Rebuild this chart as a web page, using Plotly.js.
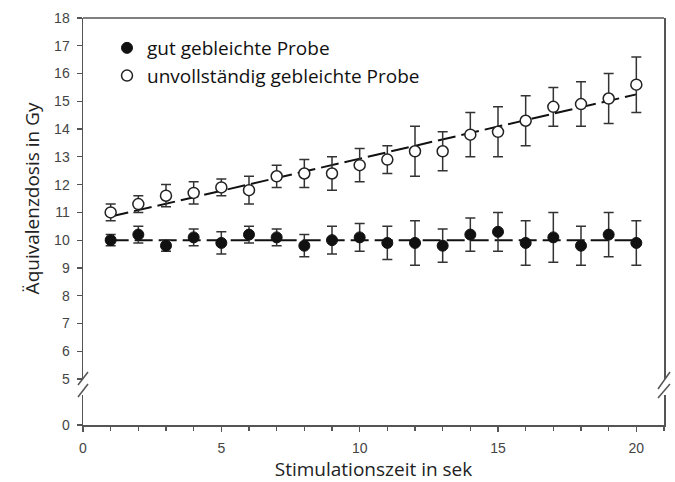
<!DOCTYPE html>
<html>
<head>
<meta charset="utf-8">
<script src="https://cdn.plot.ly/plotly-3.0.1.min.js"></script>
<style>html,body{margin:0;padding:0;background:#fff;}#chart{width:675px;height:482px;}</style>
</head>
<body>
<div id="chart"></div>
<script>
// ---- data ----
var stimTime = [1,2,3,4,5,6,7,8,9,10,11,12,13,14,15,16,17,18,19,20];
var gutValues = [10.0,10.2,9.8,10.1,9.9,10.2,10.1,9.8,10.0,10.1,9.9,9.9,9.8,10.2,10.3,9.9,10.1,9.8,10.2,9.9];
var gutErrors = [0.2,0.3,0.2,0.3,0.4,0.3,0.3,0.4,0.5,0.5,0.6,0.8,0.6,0.6,0.7,0.8,0.9,0.7,0.8,0.8];
var unvValues = [11.0,11.3,11.6,11.7,11.9,11.8,12.3,12.4,12.4,12.7,12.9,13.2,13.2,13.8,13.9,14.3,14.8,14.9,15.1,15.6];
var unvErrors = [0.3,0.3,0.4,0.4,0.3,0.5,0.4,0.5,0.6,0.6,0.5,0.9,0.7,0.8,0.9,0.9,0.7,0.8,0.9,1.0];
var fitX = [1, 20];
var fitGut = [10.0, 10.0];
var fitUnv = [10.85, 15.25];
var seriesNames = ["gut gebleichte Probe", "unvollständig gebleichte Probe"];
var xTitle = "Stimulationszeit in sek";
var yTitle = "Äquivalenzdosis in Gy";

// ---- geometry helpers (paper coords) ----
var L = 83, R = 11, T = 18, B = 57, W = 675, H = 482;
var pw = W - L - R, ph = H - T - B;
function px(x){ return (x - L) / pw; }
function py(y){ return (H - B - y) / ph; }

var axisCol = "#555";
var dashPat = "18px,6px";
var txtFont = "'Open Sans', 'Noto Sans', sans-serif";

var traces = [
  // empty trace so the lower (broken) axis segment is created
  {x: [], y: [], xaxis: "x", yaxis: "y2", mode: "markers", showlegend: false, hoverinfo: "skip"},
  {x: fitX, y: fitUnv, mode: "lines", line: {color: "#111", width: 2, dash: dashPat}, showlegend: false, hoverinfo: "skip"},
  {x: fitX, y: fitGut, mode: "lines", line: {color: "#111", width: 2, dash: dashPat}, showlegend: false, hoverinfo: "skip"},
  {x: stimTime, y: gutValues, name: seriesNames[0], mode: "markers",
   marker: {symbol: "circle", size: 11, color: "#111", line: {color: "#111", width: 1}},
   error_y: {type: "data", array: gutErrors, visible: true, color: "#333", thickness: 1.5, width: 5}},
  {x: stimTime, y: unvValues, name: seriesNames[1], mode: "markers",
   marker: {symbol: "circle", size: 11, color: "#fff", line: {color: "#222", width: 1.5}},
   error_y: {type: "data", array: unvErrors, visible: true, color: "#333", thickness: 1.5, width: 5}}
];

var shapes = [
  // top border
  {type: "line", xref: "paper", yref: "paper", x0: 0, x1: 1, y0: 1, y1: 1, line: {color: axisCol, width: 1.5}},
  // break slashes left
  {type: "line", xref: "paper", yref: "paper", x0: px(78), x1: px(88), y0: py(385), y1: py(372), line: {color: axisCol, width: 1.5}},
  {type: "line", xref: "paper", yref: "paper", x0: px(78), x1: px(88), y0: py(397), y1: py(384), line: {color: axisCol, width: 1.5}},
  // break slashes right
  {type: "line", xref: "paper", yref: "paper", x0: px(658), x1: px(670), y0: py(389), y1: py(372), line: {color: axisCol, width: 1.5}},
  {type: "line", xref: "paper", yref: "paper", x0: px(658), x1: px(670), y0: py(398), y1: py(384), line: {color: axisCol, width: 1.5}}
];

var layout = {
  width: W, height: H,
  margin: {l: L, r: R, t: T, b: B, pad: 0},
  paper_bgcolor: "#fff", plot_bgcolor: "#fff",
  font: {family: "Liberation Sans, Arial, sans-serif", color: "#333", size: 14},
  showlegend: true,
  legend: {x: px(107), y: py(29), xanchor: "left", yanchor: "top", bgcolor: "rgba(0,0,0,0)",
           font: {family: txtFont, size: 19, color: "#111"}, itemwidth: 30, tracegroupgap: 0},
  xaxis: {range: [0, 21], anchor: "y2", showline: true, linecolor: axisCol, linewidth: 1.5,
          showgrid: false, zeroline: false, ticks: "outside", ticklen: 5, tickwidth: 1.2, tickcolor: axisCol,
          tickvals: [0,5,10,15,20], ticklabelstandoff: 5,
          minor: {dtick: 1, tick0: 0, ticks: "outside", ticklen: 4, tickcolor: axisCol, showgrid: false},
          tickfont: {size: 14, color: "#444"},
          title: {text: xTitle, standoff: 4, font: {family: txtFont, size: 19, color: "#222"}}},
  yaxis: {domain: [py(379), 1], range: [5, 18], anchor: "x", showline: true, mirror: true,
          linecolor: axisCol, linewidth: 1.5, showgrid: false, zeroline: false,
          ticks: "outside", ticklen: 5, tickwidth: 1.2, tickcolor: axisCol, dtick: 1, tick0: 5,
          ticklabelstandoff: 4, tickfont: {size: 14, color: "#444"},
          title: {text: yTitle, standoff: 9, font: {family: txtFont, size: 19, color: "#222"}}},
  yaxis2: {domain: [0, py(395)], range: [0, (425 - 395) / 27.75], anchor: "x", showline: true, mirror: true,
           linecolor: axisCol, linewidth: 1.5, showgrid: false, zeroline: false,
           ticks: "outside", ticklen: 5, tickwidth: 1.2, tickcolor: axisCol, tickvals: [0],
           ticklabelstandoff: 4, tickfont: {size: 14, color: "#444"}},
  shapes: shapes
};

Plotly.newPlot("chart", traces, layout, {displayModeBar: false, staticPlot: true});
</script>
</body>
</html>
